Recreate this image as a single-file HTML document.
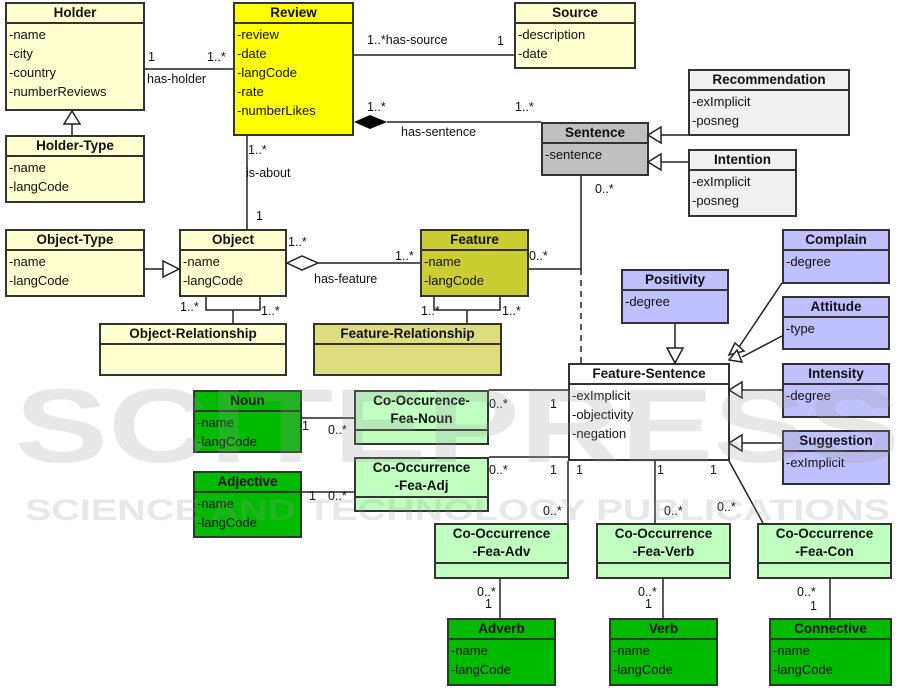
<!DOCTYPE html>
<html><head><meta charset="utf-8"><style>
body{margin:0;width:915px;height:693px;background:#fff;position:relative;overflow:hidden;font-family:"Liberation Sans",sans-serif;color:#111}
.b{position:absolute;border:2px solid #333;box-sizing:border-box;font-size:13px}
.h{font-weight:bold;text-align:center;border-bottom:2px solid #333;height:18px;line-height:17px;font-size:13.5px}
.h2{font-weight:bold;text-align:center;border-bottom:2px solid #333;height:37px;line-height:18px;font-size:13.5px}
.a{padding-left:2px;line-height:19px;padding-top:1px}
.y{background:#ffffd0}.Y{background:#ffff00}.f{background:#cccc33}.fr{background:#dddd80}
.g{background:#c0c0c0}.l{background:#f0f0f0}.p{background:#c0c0ff}.G{background:#00bb00}.lg{background:#c0ffc0}.w{background:#fff}
svg{position:absolute;left:0;top:0}
.t{font-family:"Liberation Sans",sans-serif;font-size:12.5px;fill:#111}
</style></head><body>
<div class="b y" style="left:5px;top:2px;width:140px;height:109px"><div class="h">Holder</div><div class="a">-name<br>-city<br>-country<br>-numberReviews</div></div>
<div class="b y" style="left:5px;top:135px;width:140px;height:68px"><div class="h">Holder-Type</div><div class="a">-name<br>-langCode</div></div>
<div class="b Y" style="left:233px;top:2px;width:121px;height:134px"><div class="h">Review</div><div class="a">-review<br>-date<br>-langCode<br>-rate<br>-numberLikes</div></div>
<div class="b y" style="left:514px;top:2px;width:122px;height:67px"><div class="h">Source</div><div class="a">-description<br>-date</div></div>
<div class="b l" style="left:688px;top:69px;width:162px;height:67px"><div class="h">Recommendation</div><div class="a">-exImplicit<br>-posneg</div></div>
<div class="b g" style="left:541px;top:122px;width:108px;height:54px"><div class="h">Sentence</div><div class="a">-sentence</div></div>
<div class="b l" style="left:688px;top:149px;width:109px;height:68px"><div class="h">Intention</div><div class="a">-exImplicit<br>-posneg</div></div>
<div class="b y" style="left:5px;top:229px;width:140px;height:68px"><div class="h">Object-Type</div><div class="a">-name<br>-langCode</div></div>
<div class="b y" style="left:179px;top:229px;width:108px;height:68px"><div class="h">Object</div><div class="a">-name<br>-langCode</div></div>
<div class="b f" style="left:420px;top:229px;width:109px;height:68px"><div class="h">Feature</div><div class="a">-name<br>-langCode</div></div>
<div class="b y" style="left:99px;top:323px;width:188px;height:53px"><div class="h">Object-Relationship</div></div>
<div class="b fr" style="left:313px;top:323px;width:189px;height:53px"><div class="h">Feature-Relationship</div></div>
<div class="b p" style="left:621px;top:269px;width:108px;height:55px"><div class="h">Positivity</div><div class="a">-degree</div></div>
<div class="b p" style="left:782px;top:229px;width:108px;height:55px"><div class="h">Complain</div><div class="a">-degree</div></div>
<div class="b p" style="left:782px;top:296px;width:108px;height:54px"><div class="h">Attitude</div><div class="a">-type</div></div>
<div class="b p" style="left:782px;top:363px;width:108px;height:55px"><div class="h">Intensity</div><div class="a">-degree</div></div>
<div class="b p" style="left:782px;top:430px;width:108px;height:55px"><div class="h">Suggestion</div><div class="a">-exImplicit</div></div>
<div class="b w" style="left:568px;top:363px;width:162px;height:98px"><div class="h">Feature-Sentence</div><div class="a">-exImplicit<br>-objectivity<br>-negation</div></div>
<div class="b G" style="left:193px;top:390px;width:109px;height:63px"><div class="h">Noun</div><div class="a">-name<br>-langCode</div></div>
<div class="b G" style="left:193px;top:471px;width:109px;height:67px"><div class="h">Adjective</div><div class="a">-name<br>-langCode</div></div>
<div class="b lg" style="left:354px;top:390px;width:135px;height:55px"><div class="h2">Co-Occurence-<br>Fea-Noun</div></div>
<div class="b lg" style="left:354px;top:457px;width:135px;height:55px"><div class="h2">Co-Occurrence<br>-Fea-Adj</div></div>
<div class="b lg" style="left:434px;top:523px;width:135px;height:56px"><div class="h2">Co-Occurrence<br>-Fea-Adv</div></div>
<div class="b lg" style="left:596px;top:523px;width:135px;height:56px"><div class="h2">Co-Occurrence<br>-Fea-Verb</div></div>
<div class="b lg" style="left:757px;top:523px;width:135px;height:56px"><div class="h2">Co-Occurrence<br>-Fea-Con</div></div>
<div class="b G" style="left:447px;top:618px;width:109px;height:68px"><div class="h">Adverb</div><div class="a">-name<br>-langCode</div></div>
<div class="b G" style="left:609px;top:618px;width:109px;height:68px"><div class="h">Verb</div><div class="a">-name<br>-langCode</div></div>
<div class="b G" style="left:769px;top:618px;width:123px;height:68px"><div class="h">Connective</div><div class="a">-name<br>-langCode</div></div>

<svg width="915" height="693">
<g stroke="#222" stroke-width="1.5" fill="none">
<path d="M145 69H233M354 55H514M387 122H541M688 135H661M688 162H661M72 135V122M247 136V229M145 269H163M318 263H420M528 269H581M581 176V269"/>
<path d="M581 269V363" stroke-dasharray="6,5"/>
<path d="M206 297V310H260V297M233 310V323M434 297V310H500V297M467 310V323"/>
<path d="M675 324V348M782 283L737 350M782 336L742 357M782 390H742M782 443H742"/>
<path d="M302 418H354M302 492H354M489 390H568M489 457H568M568 461V523M655 461V523M729 461L763 523M500 579V618M663 579V618M830 579V618"/>
</g>
<g stroke="#222" stroke-width="1.5" fill="#fff">
<path d="M72 111L64 124H80Z"/><path d="M179 269L163 261V277Z"/>
<path d="M648 135L661 127V143Z"/><path d="M648 162L661 154V170Z"/>
<path d="M675 363L667 348H683Z"/>
<path d="M729 355L735 343L744 351Z"/><path d="M729 360L737 350L742 362Z"/>
<path d="M729 390L742 382V398Z"/><path d="M729 443L742 435V451Z"/>
<path d="M287 263L302 256L318 263L302 270Z"/>
</g>
<path d="M354 122L370 115L387 122L370 129Z" fill="#000"/>
<g class="t">
<text x="148" y="61">1</text><text x="207" y="61">1..*</text><text x="147" y="83">has-holder</text>
<text x="367" y="44">1..*has-source</text><text x="497" y="45">1</text>
<text x="367" y="111">1..*</text><text x="401" y="136">has-sentence</text><text x="515" y="111">1..*</text>
<text x="248" y="154">1..*</text><text x="246" y="177">is-about</text><text x="256" y="220">1</text>
<text x="288" y="246">1..*</text><text x="395" y="260">1..*</text><text x="314" y="283">has-feature</text>
<text x="595" y="193">0..*</text><text x="529" y="260">0..*</text>
<text x="180" y="311">1..*</text><text x="261" y="315">1..*</text><text x="421" y="315">1..*</text><text x="502" y="315">1..*</text>
<text x="489" y="408">0..*</text><text x="550" y="408">1</text><text x="302" y="430">1</text><text x="328" y="434">0..*</text>
<text x="489" y="474">0..*</text><text x="550" y="474">1</text><text x="309" y="500">1</text><text x="328" y="500">0..*</text>
<text x="576" y="474">1</text><text x="657" y="474">1</text><text x="710" y="474">1</text>
<text x="543" y="515">0..*</text><text x="664" y="515">0..*</text><text x="717" y="511">0..*</text>
<text x="477" y="596">0..*</text><text x="485" y="608">1</text>
<text x="638" y="596">0..*</text><text x="645" y="608">1</text>
<text x="797" y="596">0..*</text><text x="810" y="610">1</text>
</g>
<g fill="#999" opacity="0.22" font-family="Liberation Sans,sans-serif" font-weight="bold">
<text x="15" y="462" font-size="105" textLength="885" lengthAdjust="spacingAndGlyphs">SCITEPRESS</text>
<text x="25" y="520" font-size="30" textLength="865" lengthAdjust="spacingAndGlyphs">SCIENCE AND TECHNOLOGY PUBLICATIONS</text>
</g>
</svg>
</body></html>
